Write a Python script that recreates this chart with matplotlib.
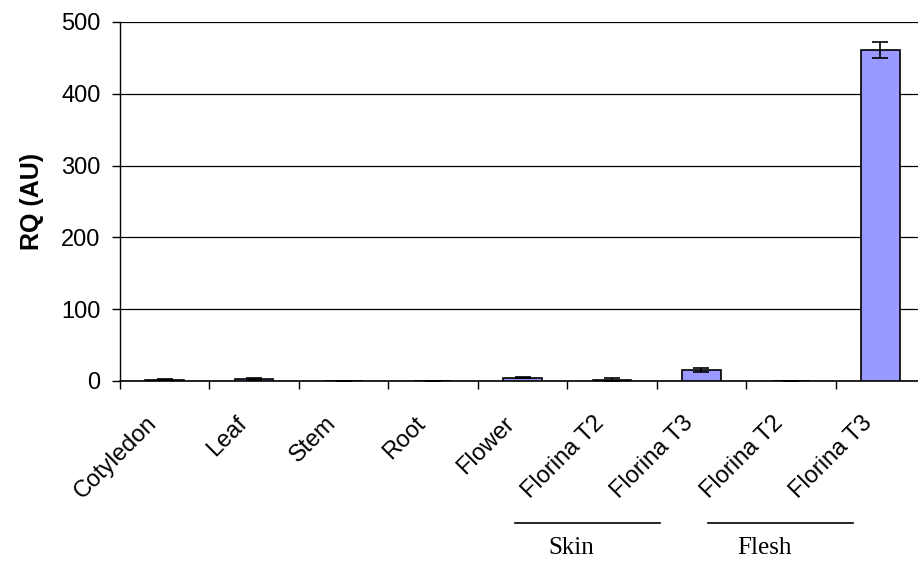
import numpy as np
import matplotlib.pyplot as plt
import matplotlib.transforms as mtransforms

# -------------------------------------------------------------------------------------------------- #

# Data
categories = ['Cotyledon', 'Leaf', 'Stem', 'Root', 'Flower',
              'Florina T2', 'Florina T3', 'Florina T2', 'Florina T3']
rq_values = [1.8, 2.2, 0.0, 0.3, 4.5, 2.0, 15.5, 0.0, 461.0]
rq_errors = [0.4, 1.5, 0.0, 0.1, 1.0, 1.5, 3.0, 0.0, 11.0]
yticks = [0, 100, 200, 300, 400, 500]

# -------------------------------------------------------------------------------------------------- #

plt.rcParams['font.family'] = ['Liberation Sans', 'DejaVu Sans']

fig = plt.figure(figsize=(9.18, 5.63), dpi=100)
ax = fig.add_axes([0.1307, 0.3233, 0.877, 0.6377])

x = np.arange(len(categories))
ax.bar(x, rq_values, width=0.43, color='#9999ff', edgecolor='black', linewidth=1.2,
       yerr=rq_errors, error_kw=dict(ecolor='black', elinewidth=1.2, capsize=6, capthick=1.2),
       zorder=3)

ax.set_xlim(-0.5, len(categories) - 0.5)
ax.set_ylim(0, 500)
ax.set_yticks(yticks)
ax.yaxis.grid(True, color='black', linewidth=0.9, zorder=0)

# category boundaries as ticks
ax.set_xticks(np.arange(len(categories) + 1) - 0.5)
ax.set_xticklabels([])
ax.set_xticks(x, minor=True)
ax.set_xticklabels(categories, minor=True, rotation=45, ha='right', va='top',
                   rotation_mode='anchor', fontsize=17)
ax.tick_params(axis='x', which='minor', length=0, pad=14)
ax.tick_params(axis='x', which='major', length=6, direction='out', width=1)
ax.tick_params(axis='y', labelsize=17, length=6, width=1, direction='out', pad=8)

# shift rotated labels left / down to sit like the original
shift = mtransforms.ScaledTranslation(-19 / 100, -12 / 100, fig.dpi_scale_trans)
for lbl in ax.get_xticklabels(minor=True):
    lbl.set_transform(lbl.get_transform() + shift)

for side in ['top', 'right']:
    ax.spines[side].set_visible(False)
ax.spines['left'].set_linewidth(1)
ax.spines['bottom'].set_linewidth(1.2)

ax.set_ylabel('RQ (AU)', fontsize=18, fontweight='bold', labelpad=12)

# Skin / Flesh group annotations below the tick labels
trans = mtransforms.blended_transform_factory(ax.transData, ax.transAxes)
groups = [('Skin', 3.92, 5.54), ('Flesh', 6.07, 7.69)]
for name, x0, x1 in groups:
    ax.plot([x0, x1], [-0.396, -0.396], color='black', linewidth=1.2,
            transform=trans, clip_on=False)
    ax.text((x0 + x1) / 2 - 0.18, -0.466, name, transform=trans, ha='center', va='center',
            fontsize=18, family=['Liberation Serif', 'DejaVu Serif'])

fig.savefig('out.png', dpi=100)
